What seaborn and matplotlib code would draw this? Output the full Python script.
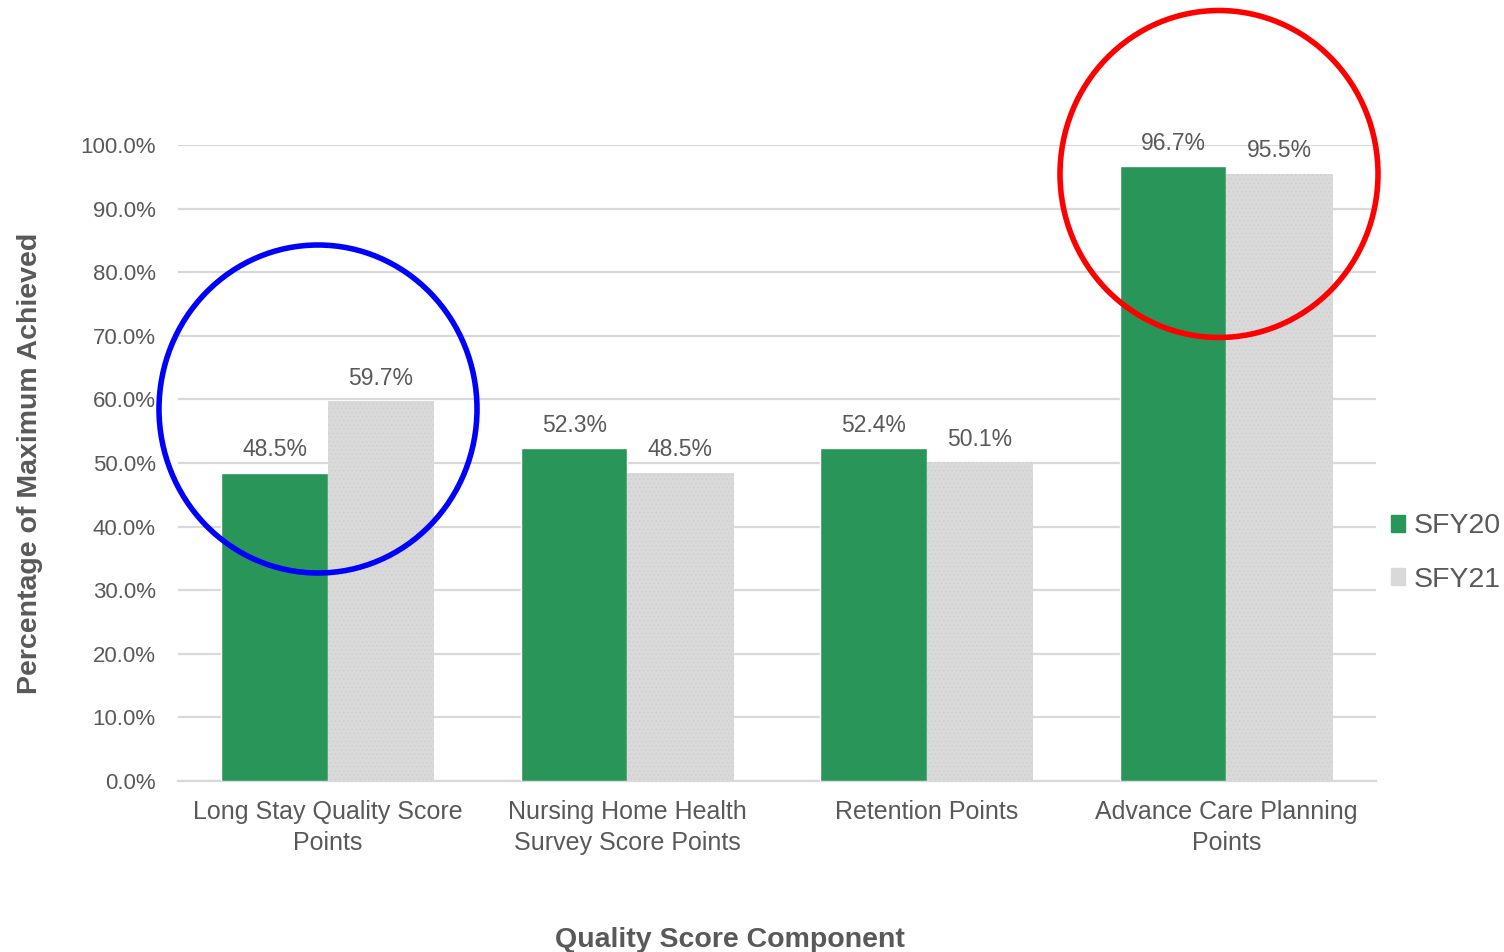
import matplotlib
matplotlib.use("Agg")
import matplotlib.pyplot as plt
from matplotlib.patches import Ellipse
from matplotlib.ticker import PercentFormatter
import seaborn as sns
import pandas as pd

# Data
components = [
    "Long Stay Quality Score\nPoints",
    "Nursing Home Health\nSurvey Score Points",
    "Retention Points",
    "Advance Care Planning\nPoints",
]
sfy20 = [0.485, 0.523, 0.524, 0.967]
sfy21 = [0.597, 0.485, 0.501, 0.955]
years = ["SFY20", "SFY21"]
yticks = [i / 10 for i in range(11)]

df = pd.DataFrame({
    "Component": components * 2,
    "Value": sfy20 + sfy21,
    "Year": [years[0]] * len(components) + [years[1]] * len(components),
})

sns.set_theme(style="white")
plt.rcParams["font.family"] = ["Liberation Sans", "DejaVu Sans"]
plt.rcParams["hatch.linewidth"] = 0.4

GREEN = "#2A9558"
GRAY = "#D9D9D9"
TEXT = "#595959"

fig = plt.figure(figsize=(15.04, 9.52), dpi=100)
ax = fig.add_axes([0.1184, 0.1796, 0.9149 - 0.1184, 0.8477 - 0.1796])

sns.barplot(data=df, x="Component", y="Value", hue="Year",
            palette=[GREEN, GRAY], width=0.71, gap=0, ax=ax,
            saturation=1, legend=False, zorder=3)

# subtle dotted texture on the SFY21 bars
for patch in ax.containers[1]:
    patch.set_hatch("....")
    patch.set_edgecolor("#CDCDCD")
    patch.set_linewidth(0)

ax.set_ylim(0, 1.0)
ax.set_xlim(-0.5, 3.5)
ax.set_yticks(yticks)
ax.yaxis.set_major_formatter(PercentFormatter(1.0, decimals=1))
ax.grid(axis="y", color="#D9D9D9", linewidth=1.6, zorder=0)
ax.set_axisbelow(True)
for s in ["top", "right", "left"]:
    ax.spines[s].set_visible(False)
ax.spines["bottom"].set_color("#D9D9D9")
ax.spines["bottom"].set_linewidth(1.6)
ax.tick_params(axis="y", length=0, colors=TEXT, labelsize=16, pad=16)
ax.tick_params(axis="x", length=0, colors=TEXT, labelsize=18, pad=14)
for lbl in ax.get_xticklabels():
    lbl.set_linespacing(1.35)

ax.set_xlabel("Quality Score Component", fontsize=20.5, fontweight="bold",
              color=TEXT, va="top")
ax.xaxis.set_label_coords((730 - 178) / 1198, (781 - 927) / 636)
ax.set_ylabel("Percentage of Maximum Achieved", fontsize=20.5,
              fontweight="bold", color=TEXT)
ax.yaxis.set_label_coords((43 - 178) / 1198, 0.5)

for cont in ax.containers:
    ax.bar_label(cont, labels=[f"{b.get_height():.1%}" for b in cont],
                 padding=8, fontsize=16.5, color=TEXT)

# legend
handles = [plt.Rectangle((0, 0), 1, 1, color=GREEN),
           plt.Rectangle((0, 0), 1, 1, color=GRAY)]
fig.legend(handles, years, loc="center left",
           bbox_to_anchor=(1391 / 1504, 1 - 553 / 952), frameon=False,
           borderpad=0, borderaxespad=0,
           fontsize=20.5, labelcolor=TEXT, handlelength=0.5,
           handleheight=0.55, handletextpad=0.3, labelspacing=0.95)

# highlight rings
fig.add_artist(Ellipse((318 / 1504, 1 - 409 / 952), 318 / 1504, 328 / 952,
                       transform=fig.transFigure, fill=False,
                       edgecolor="#0000FF", linewidth=4))
fig.add_artist(Ellipse((1219 / 1504, 1 - 174 / 952), 318 / 1504, 327 / 952,
                       transform=fig.transFigure, fill=False,
                       edgecolor="#FF0000", linewidth=4))

fig.savefig("out.png", dpi=100)
